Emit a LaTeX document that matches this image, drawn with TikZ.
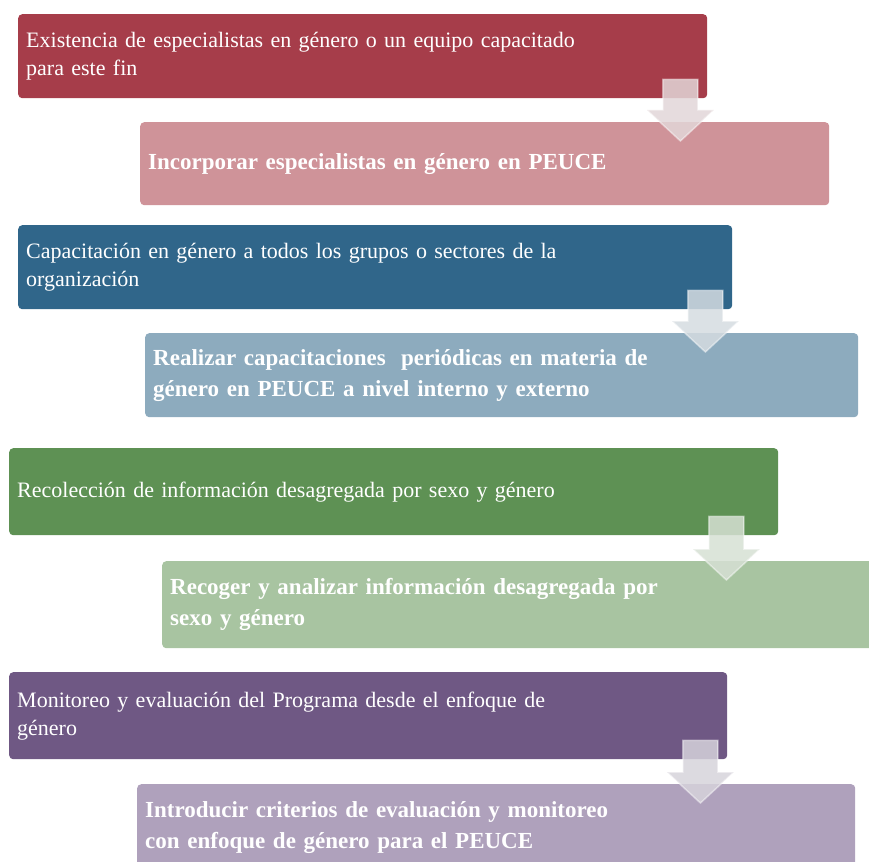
\documentclass[tikz,border=0pt]{standalone}
\usepackage{fontspec}
\setmainfont{Liberation Serif}
\usetikzlibrary{calc}

\definecolor{rojo}{HTML}{A63D4A}  \definecolor{rojoclaro}{HTML}{CF9399}
\definecolor{azul}{HTML}{30668A}  \definecolor{azulclaro}{HTML}{8DABBE}
\definecolor{verde}{HTML}{5E9154} \definecolor{verdeclaro}{HTML}{A8C4A1}
\definecolor{lila}{HTML}{6F5884}  \definecolor{lilaclaro}{HTML}{AFA1BC}
\definecolor{flrojo}{HTML}{E2D6D8} \definecolor{flazul}{HTML}{D5DCE1}
\definecolor{flverde}{HTML}{D6E0D4} \definecolor{fllila}{HTML}{D6D3DB}

% block arrow from the bottom of one box into the next one
\newcommand{\flecha}[4]{%
  \path[fill=#4, fill opacity=0.85, draw=white, draw opacity=0.45, line width=1.5pt]
    let \p1=(#1.south east), \p2=(#2.north) in
    (\x1-#3-17.5pt,\y1+19pt) -- (\x1-#3+17.5pt,\y1+19pt) -- (\x1-#3+17.5pt,\y2+12pt)
    -- (\x1-#3+33.5pt,\y2+12pt) -- (\x1-#3,\y2-19pt) -- (\x1-#3-33.5pt,\y2+12pt)
    -- (\x1-#3-17.5pt,\y2+12pt) -- cycle;}

\begin{document}
\begin{tikzpicture}[x=1pt,y=1pt,
  caja/.style={rectangle, rounded corners=4pt, anchor=north west, inner xsep=8pt, inner ysep=0pt,
    align=left, text=white, font=\fontsize{22}{28}\selectfont},
  fuerte/.style={caja, font=\fontsize{23}{31}\selectfont\bfseries}]

  \useasboundingbox (0,0) rectangle (869,-861);
  \clip (0,0) rectangle (869,-861);

  \node[caja, fill=rojo, minimum height=84pt, text width=673pt] (e1) at (18,-14)
    {Existencia de especialistas en género o un equipo capacitado\\para este fin};
  \node[fuerte, fill=rojoclaro, minimum height=83pt, text width=673pt] (a1) at (140,-122)
    {Incorporar especialistas en género en PEUCE};

  \node[caja, fill=azul, minimum height=84pt, text width=698pt] (e2) at (18,-225)
    {Capacitación en género a todos los grupos o sectores de la\\organización};
  \node[fuerte, fill=azulclaro, minimum height=84pt, text width=697pt] (a2) at (145,-333)
    {Realizar capacitaciones\ \ periódicas en materia de\\género en PEUCE a nivel interno y externo};

  \node[caja, fill=verde, minimum height=87pt, text width=753pt] (e3) at (9,-448)
    {Recolección de información desagregada por sexo y género};
  \node[fuerte, fill=verdeclaro, minimum height=87pt, text width=704pt] (a3) at (162,-561)
    {Recoger y analizar información desagregada por\\sexo y género};

  \node[caja, fill=lila, minimum height=87pt, text width=702pt] (e4) at (9,-672)
    {Monitoreo y evaluación del Programa desde el enfoque de\\género};
  \node[fuerte, fill=lilaclaro, minimum height=87pt, text width=702pt] (a4) at (137,-784)
    {Introducir criterios de evaluación y monitoreo\\con enfoque de género para el PEUCE};

  \flecha{e1}{a1}{27pt}{flrojo}
  \flecha{e2}{a2}{27pt}{flazul}
  \flecha{e3}{a3}{52pt}{flverde}
  \flecha{e4}{a4}{27pt}{fllila}

\end{tikzpicture}
\end{document}
